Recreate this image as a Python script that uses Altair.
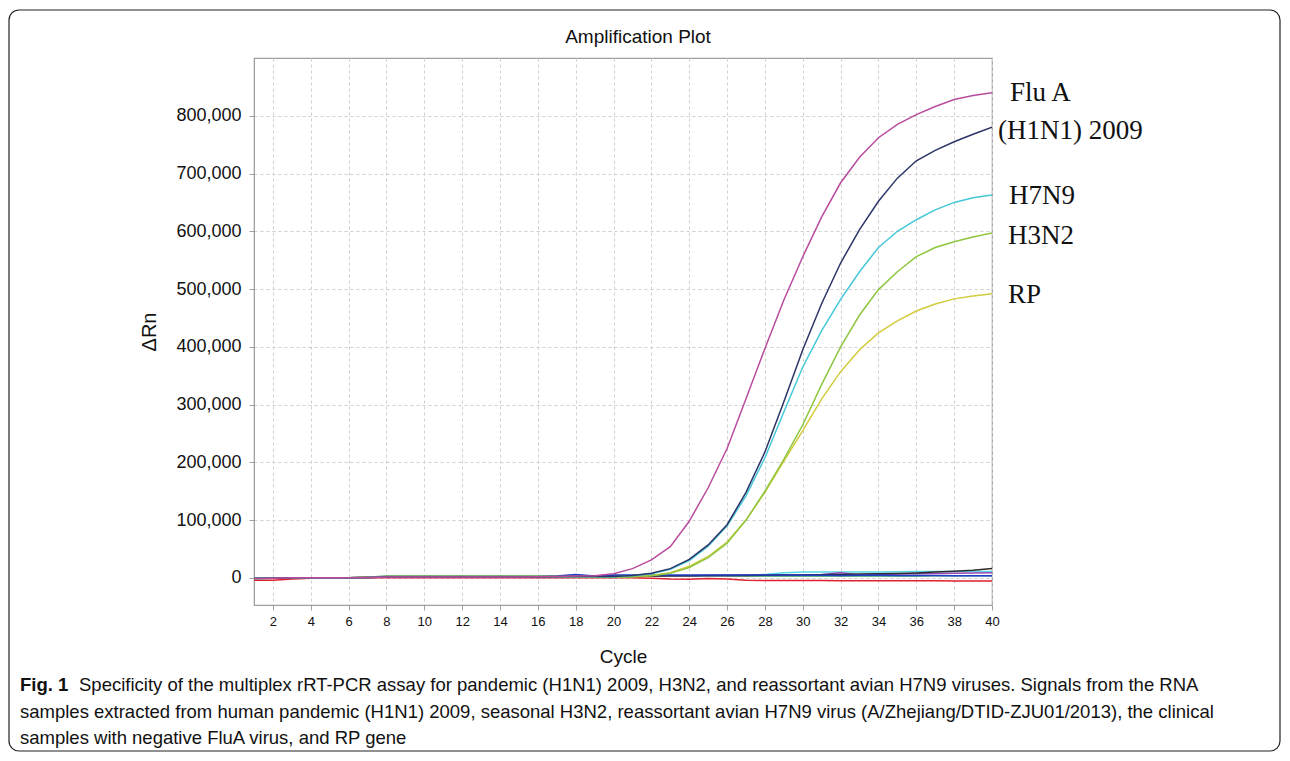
import altair as alt
import pandas as pd

cycles = list(range(1, 41))

flu_a = [-1000, -500, 0, 0, 0, 0, 500, 1500, 1500, 1500, 1500, 1500, 1500, 1500, 1500, 2000, 2500, 3000, 3500, 7000,
         16000, 31000, 54000, 98000, 156000, 224000, 310000, 397000, 481000, 556000,
         625000, 684000, 728000, 762000, 785000, 802000, 816000, 828000, 835000, 840000]
h1n1 = [-1000, -500, 0, 0, 0, 0, 500, 1500, 1500, 1500, 1500, 1500, 1500, 1500, 1500, 1500, 2000, 2500, 2500, 2500,
        4000, 8000, 16000, 32000, 57000, 92000, 148000, 218000, 305000, 395000,
        475000, 545000, 603000, 652000, 692000, 722000, 740000, 755000, 768000, 780000]
h7n9 = [-1000, -500, 0, 0, 0, 0, 500, 2000, 2000, 2000, 2000, 2000, 2000, 2000, 2000, 2000, 2000, 2000, 2000, 2000,
        3500, 7000, 15000, 30000, 55000, 90000, 142000, 208000, 287000, 365000,
        428000, 482000, 530000, 572000, 600000, 620000, 637000, 650000, 658000, 663000]
h3n2 = [-1000, -500, 0, 0, 0, 0, 1000, 2500, 2500, 2500, 2500, 2500, 2500, 2500, 2500, 2500, 2500, 2000, 1500, 1000,
        2000, 3500, 8000, 18000, 35000, 60000, 100000, 150000, 205000, 265000,
        335000, 400000, 455000, 499000, 530000, 556000, 572000, 582000, 590000, 597000]
rp = [-1000, -500, 0, 0, 0, 0, 500, 1500, 1500, 1500, 1500, 1500, 1500, 1500, 1500, 1500, 1500, 1500, 1000, 1000,
      2000, 4000, 9000, 20000, 37000, 62000, 100000, 148000, 202000, 255000,
      310000, 357000, 395000, 424000, 445000, 462000, 474000, 483000, 488000, 492000]

neg_red = [-4000, -4000, -2000, -500, 0, 0, 0, 0, 0, 0, 0, 0, 0, 0, 0, 0, 0, 0, 0, 0,
           0, -500, -2000, -2500, -1000, -2000, -4000, -4500, -4500, -4500,
           -4500, -5000, -5000, -5000, -5000, -5000, -5000, -5500, -5500, -5500]
neg_blue = [0, 0, 0, 0, 0, 0, 500, 1500, 1500, 1500, 2000, 2000, 2000, 2000, 2000, 2000, 3000, 6000, 3000, 5000,
            5000, 5000, 5000, 5000, 5000, 5000, 5000, 5000, 5000, 4500,
            4500, 4000, 4500, 4500, 4000, 4000, 4000, 3500, 3500, 3500]
neg_dark = [0, 0, 0, 0, 0, 0, 500, 1500, 1500, 1500, 1500, 1500, 1500, 1500, 1500, 1500, 2000, 2500, 2500, 3000,
            3000, 3000, 3500, 3500, 4000, 4000, 4000, 4500, 5000, 5000,
            5500, 6000, 6500, 7000, 7500, 8500, 10000, 11500, 13000, 16000]
neg_purple = [0, 0, 0, 0, 0, 0, 500, 1500, 1500, 1500, 1500, 1500, 1500, 1500, 1500, 1500, 2000, 2000, 2500, 3000,
              3000, 3000, 3500, 3500, 4000, 4000, 4500, 4500, 5000, 5000,
              6000, 9000, 5000, 6000, 6500, 7000, 7500, 8000, 8500, 9000]
neg_cyan = [0, 0, 0, 0, 0, 0, 500, 2000, 2000, 2000, 2000, 2000, 2000, 2000, 2000, 2000, 2000, 2500, 2500, 3000,
            3000, 3000, 3000, 3500, 3500, 4000, 4500, 6000, 9000, 10000,
            10000, 10000, 10000, 10000, 10500, 11000, 11000, 11000, 11000, 11000]
neg_green = [0, 0, 0, 0, 0, 0, 1000, 3000, 3000, 3000, 3000, 3000, 3000, 3000, 3000, 3000, 3000, 3000, 3000, 3000,
             3000, 3000, 3000, 3000, 3000, 3000, 3000, 3000, 3000, 3000,
             3000, 3000, 3000, 3000, 3000, 3000, 3500, 3500, 3500, 3500]

series_names = ["neg green", "neg cyan", "neg purple", "neg dark", "neg blue", "neg red",
                "RP", "H3N2", "H7N9", "(H1N1) 2009", "Flu A"]
series_values = [neg_green, neg_cyan, neg_purple, neg_dark, neg_blue, neg_red,
                 rp, h3n2, h7n9, h1n1, flu_a]
series_colors = ["#3f9a62", "#58d6e6", "#9a48b4", "#2a2a2a", "#1f3fc4", "#e0202e",
                 "#d3cb3c", "#8ec63f", "#45c8d8", "#2c3568", "#b84c9e"]

label_texts = ["Flu A", "(H1N1) 2009", "H7N9", "H3N2", "RP"]
label_series = ["Flu A", "(H1N1) 2009", "H7N9", "H3N2", "RP"]
label_dx = [18, 6, 17, 16, 16]
label_dy = [0, 4, 1, 3, 1]

x_ticks = list(range(2, 41, 2))
y_ticks = list(range(0, 800001, 100000))

title_text = "Amplification Plot"
caption_bold = "Fig. 1"
caption_lines = [
    "Specificity of the multiplex rRT-PCR assay for pandemic (H1N1) 2009, H3N2, and reassortant avian H7N9 viruses. Signals from the RNA",
    "samples extracted from human pandemic (H1N1) 2009, seasonal H3N2, reassortant avian H7N9 virus (A/Zhejiang/DTID-ZJU01/2013), the clinical",
    "samples with negative FluA virus, and RP gene",
]

rows = []
for order_i, (name, vals) in enumerate(zip(series_names, series_values)):
    for c, v in zip(cycles, vals):
        rows.append({"series": name, "cycle": c, "drn": v, "ord": order_i})
df = pd.DataFrame(rows)

x_scale = alt.Scale(domain=[1, 40], nice=False, zero=False)
y_scale = alt.Scale(domain=[-47000, 900000], nice=False, zero=False)
color_scale = alt.Scale(domain=series_names, range=series_colors)

x_axis = alt.Axis(values=x_ticks, title="Cycle", format="d",
                  labelOverlap=False, labelFlush=False, labelBound=False, labelSeparation=0,
                  labelFont="Liberation Sans", labelFontSize=13,
                  titleFont="Liberation Sans", titleFontSize=19,
                  titleFontWeight="normal", titlePadding=19, labelPadding=5)
y_axis = alt.Axis(values=y_ticks, title="\u0394Rn", format=",d",
                  labelOverlap=False,
                  labelFont="Liberation Sans", labelFontSize=18,
                  titleFont="Liberation Sans", titleFontSize=20,
                  titleFontWeight="normal", titlePadding=16, labelPadding=8)

lines = alt.Chart(df).mark_line(strokeWidth=1.5, clip=True).encode(
    x=alt.X("cycle:Q", scale=x_scale, axis=x_axis),
    y=alt.Y("drn:Q", scale=y_scale, axis=y_axis),
    color=alt.Color("series:N", scale=color_scale, legend=None),
    detail="series:N",
    order="ord:Q",
)

end_map = {name: vals[-1] for name, vals in zip(series_names, series_values)}

label_layers = []
for txt, ser, dx, dy in zip(label_texts, label_series, label_dx, label_dy):
    ldf = pd.DataFrame({"cycle": [cycles[-1]], "drn": [end_map[ser]], "label": [txt]})
    label_layers.append(
        alt.Chart(ldf).mark_text(align="left", baseline="middle", font="Liberation Serif",
                                 fontSize=27, color="#111111", dx=dx, dy=dy).encode(
            x=alt.X("cycle:Q", scale=x_scale, axis=x_axis),
            y=alt.Y("drn:Q", scale=y_scale, axis=y_axis),
            text="label:N",
        )
    )

one = pd.DataFrame({"t": [title_text]})
title = alt.Chart(one).mark_text(font="Liberation Sans", fontSize=19, color="#111111",
                                 align="center", baseline="middle").encode(
    text="t:N", x=alt.value(384), y=alt.value(-21))

box = alt.Chart(one).mark_rect(fillOpacity=0, stroke="#222222", strokeWidth=1.2,
                               cornerRadius=10).encode(
    x=alt.value(-245), x2=alt.value(1026), y=alt.value(-48), y2=alt.value(693))

cap_bold = alt.Chart(pd.DataFrame({"t": [caption_bold]})).mark_text(
    font="Liberation Sans", fontSize=18.5, fontWeight="bold", align="left", baseline="middle",
    color="#111111").encode(text="t:N", x=alt.value(-234), y=alt.value(627))

cap_layers = []
cap_x = [-175, -234, -234]
cap_y = [627, 654, 680]
for line, cx, cy in zip(caption_lines, cap_x, cap_y):
    cap_layers.append(
        alt.Chart(pd.DataFrame({"t": [line]})).mark_text(
            font="Liberation Sans", fontSize=18.5, align="left", baseline="middle",
            color="#111111").encode(text="t:N", x=alt.value(cx), y=alt.value(cy))
    )

chart = alt.layer(lines, *label_layers, title, box, cap_bold, *cap_layers).properties(
    width=738, height=547,
    autosize=alt.AutoSizeParams(type="none"),
    padding={"left": 246, "top": 50, "right": 290, "bottom": 148},
    background="white",
).configure_view(
    stroke="#a0a0a0", strokeWidth=1.2
).configure_axis(
    domainColor="#a0a0a0", tickColor="#a0a0a0", tickSize=5,
    gridColor="#cfcfcf", gridDash=[3, 3], gridWidth=1,
    labelColor="#111111", titleColor="#111111",
    labelOverlap=False,
)

chart.save("out.html", embed_options={"renderer": "svg", "actions": False})
